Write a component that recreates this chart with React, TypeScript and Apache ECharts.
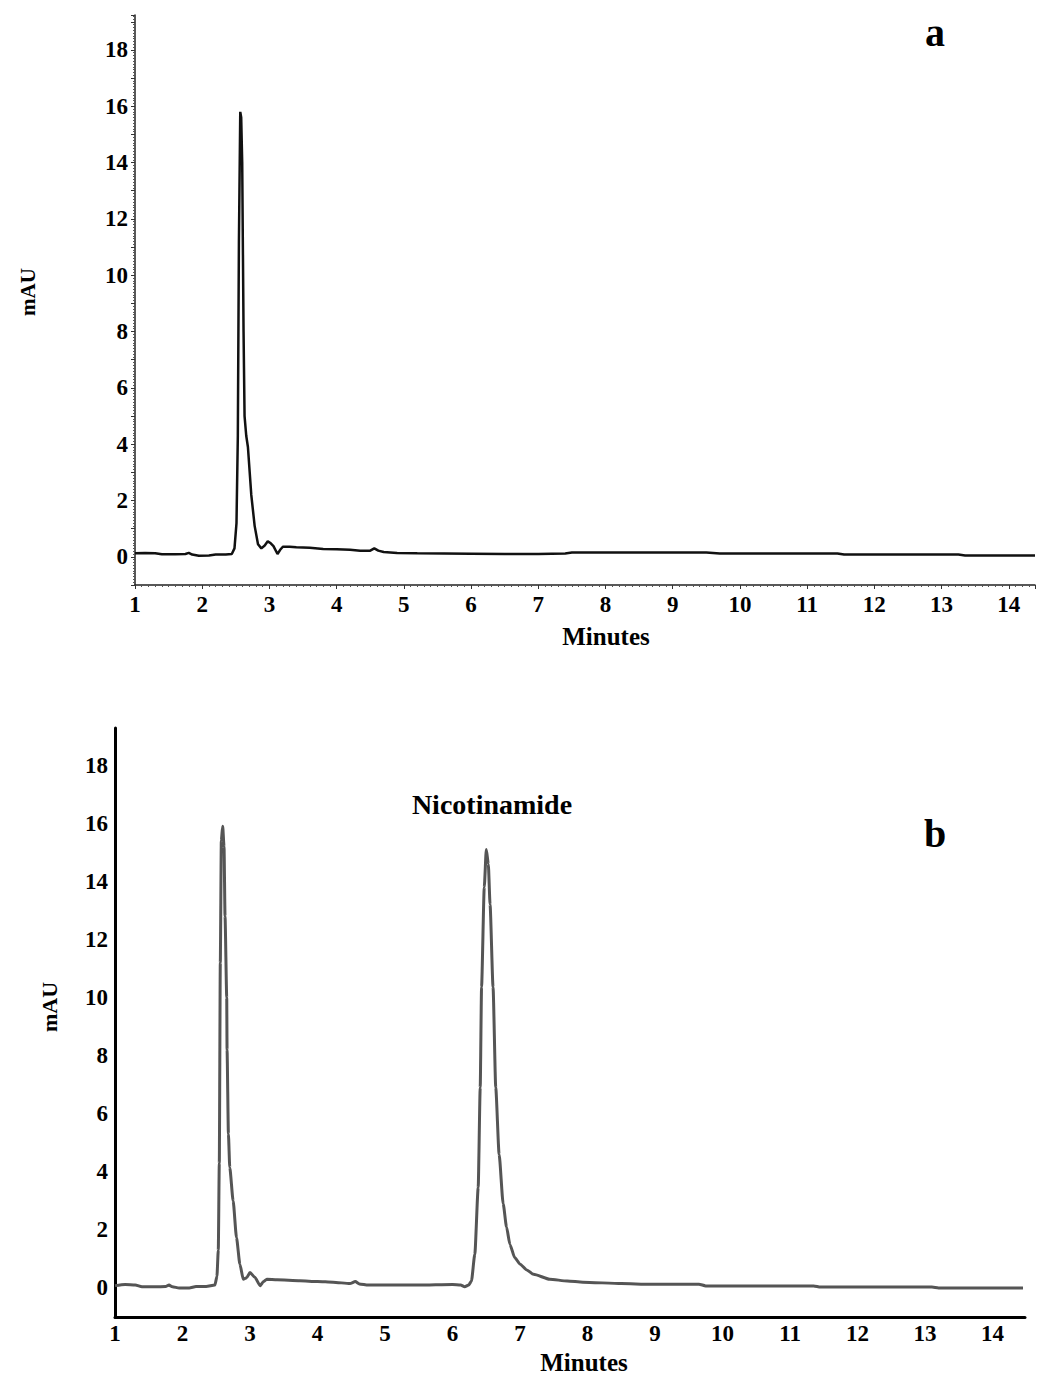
import React, { useEffect, useRef } from "react";
import * as echarts from "echarts";

// Chromatogram (a): blank / first peak only
const timeA = [
  1.0, 1.15, 1.3, 1.4, 1.6, 1.75, 1.8, 1.85, 1.95, 2.1, 2.2, 2.35, 2.44, 2.48, 2.51, 2.53, 2.546, 2.566,
  2.58, 2.595, 2.615, 2.63, 2.655, 2.68, 2.73, 2.78, 2.83, 2.88, 2.93, 2.975, 3.02, 3.06, 3.12, 3.16,
  3.2, 3.3, 3.4, 3.6, 3.8, 4.0, 4.2, 4.35, 4.5, 4.56, 4.62, 4.7, 4.9, 5.2, 5.6, 6.0, 6.5, 7.0, 7.4,
  7.5, 8.0, 8.5, 9.0, 9.5, 9.7, 10.2, 11.0, 11.45, 11.55, 12.2, 13.0, 13.25, 13.35, 14.0, 14.39,
];
const signalA = [
  0.13, 0.14, 0.13, 0.09, 0.09, 0.1, 0.14, 0.08, 0.04, 0.05, 0.08, 0.08, 0.1, 0.3, 1.2, 4.3, 11.2, 15.8,
  15.6, 14.0, 8.0, 5.0, 4.3, 3.9, 2.2, 1.1, 0.45, 0.3, 0.4, 0.55, 0.48, 0.38, 0.1, 0.25,
  0.36, 0.36, 0.34, 0.32, 0.28, 0.27, 0.25, 0.22, 0.22, 0.3, 0.22, 0.17, 0.14, 0.13, 0.12, 0.11, 0.1, 0.1, 0.12,
  0.15, 0.15, 0.15, 0.15, 0.15, 0.12, 0.12, 0.12, 0.12, 0.08, 0.08, 0.08, 0.08, 0.05, 0.05, 0.05,
];

// Chromatogram (b): with Nicotinamide peak
const timeB = [
  1.0, 1.15, 1.3, 1.4, 1.6, 1.75, 1.8, 1.85, 1.95, 2.1, 2.2, 2.35, 2.48, 2.51, 2.53, 2.545, 2.56, 2.575,
  2.595, 2.615, 2.63, 2.655, 2.66, 2.68, 2.7, 2.75, 2.8, 2.85, 2.9, 2.95, 3.0, 3.07, 3.15, 3.2, 3.25,
  3.4, 3.74, 4.0, 4.23, 4.48, 4.56, 4.62, 4.75, 5.0, 5.5, 6.0, 6.12, 6.18, 6.24, 6.28, 6.33, 6.38, 6.41,
  6.43, 6.47, 6.5, 6.53, 6.556, 6.6, 6.64, 6.69, 6.75, 6.8, 6.85, 6.92, 7.0, 7.1, 7.2, 7.44, 7.7, 7.93,
  8.5, 8.93, 9.65, 9.75, 11.35, 11.45, 13.1, 13.2, 14.45,
];
const signalB = [
  0.08, 0.12, 0.1, 0.04, 0.04, 0.05, 0.1, 0.04, 0.0, 0.0, 0.05, 0.05, 0.1, 0.4, 1.3, 4.3, 11.2, 15.4,
  15.9, 15.2, 12.8, 10.0, 8.2, 5.3, 4.15, 3.0, 1.73, 0.82, 0.3, 0.35, 0.53, 0.37, 0.08, 0.22, 0.3,
  0.28, 0.25, 0.22, 0.2, 0.15, 0.22, 0.14, 0.1, 0.1, 0.1, 0.12, 0.1, 0.04, 0.1, 0.24, 1.16, 3.46, 6.9,
  10.36, 13.8, 15.1, 14.6, 13.2, 10.36, 6.9, 4.6, 2.9, 2.1, 1.5, 1.05, 0.82, 0.62, 0.47, 0.3, 0.24, 0.2,
  0.15, 0.13, 0.13, 0.07, 0.07, 0.03, 0.03, 0.0, 0.0,
];

const xTickLabels = [1, 2, 3, 4, 5, 6, 7, 8, 9, 10, 11, 12, 13, 14];
const yTickLabels = [0, 2, 4, 6, 8, 10, 12, 14, 16, 18];

const FONT = "'Liberation Serif', 'Times New Roman', serif";

const isInt = (v: number) => Math.abs(v - Math.round(v)) < 1e-6;
const xFmt = (v: number) => (isInt(v) && xTickLabels.includes(Math.round(v)) ? String(Math.round(v)) : "");
const yFmt = (v: number) => (isInt(v) && yTickLabels.includes(Math.round(v)) ? String(Math.round(v)) : "");

const labelStyle = { fontFamily: FONT, fontWeight: "bold" as const, fontSize: 23, color: "#000" };

export default function App() {
  const ref = useRef<HTMLDivElement>(null);
  useEffect(() => {
    const chart = echarts.init(ref.current!, null, { renderer: "svg" });
    const dataA = timeA.map((t, i) => [t, signalA[i]]);
    const dataB = timeB.map((t, i) => [t, signalB[i]]);
    const option = {
      animation: false,
      backgroundColor: "#fff",
      grid: [
        { left: 135, top: 15, width: 903, height: 570 },
        { left: 115, top: 728, width: 910, height: 589 },
      ],
      xAxis: [
        {
          type: "value", gridIndex: 0, min: 1, max: 14.39, interval: 1,
          axisLine: { onZero: false, lineStyle: { color: "#222", width: 1.5 } },
          axisTick: { show: true, length: 4, lineStyle: { color: "#333" } },
          minorTick: { show: true, splitNumber: 10, length: 2, lineStyle: { color: "#555" } },
          splitLine: { show: false },
          axisLabel: { ...labelStyle, margin: 8, formatter: xFmt },
        },
        {
          type: "value", gridIndex: 1, min: 1, max: 14.48, interval: 1,
          axisLine: { onZero: false, lineStyle: { color: "#000", width: 3 } },
          axisTick: { show: false },
          splitLine: { show: false },
          axisLabel: { ...labelStyle, margin: 5, formatter: xFmt },
        },
      ],
      yAxis: [
        {
          type: "value", gridIndex: 0, min: -1, max: 19.24, interval: 1,
          axisLine: { show: true, onZero: false, lineStyle: { color: "#222", width: 1.5 } },
          axisTick: { show: true, length: 4, lineStyle: { color: "#333" } },
          minorTick: { show: true, splitNumber: 10, length: 2, lineStyle: { color: "#555" } },
          splitLine: { show: false },
          axisLabel: { ...labelStyle, margin: 7, formatter: yFmt },
        },
        {
          type: "value", gridIndex: 1, min: -1, max: 19.28, interval: 1,
          axisLine: { show: true, onZero: false, lineStyle: { color: "#000", width: 3 } },
          axisTick: { show: false },
          splitLine: { show: false },
          axisLabel: { ...labelStyle, margin: 7, formatter: yFmt },
        },
      ],
      series: [
        {
          name: "a", type: "line", xAxisIndex: 0, yAxisIndex: 0, data: dataA,
          showSymbol: false, lineStyle: { color: "#111", width: 2.5 }, itemStyle: { color: "#111" },
        },
        {
          name: "b", type: "line", xAxisIndex: 1, yAxisIndex: 1, data: dataB,
          showSymbol: false, smooth: 0.2, smoothMonotone: "x",
          lineStyle: { color: "#555", width: 3 }, itemStyle: { color: "#555" },
        },
      ],
      graphic: [
        { type: "text", x: 935, y: 32, style: { text: "a", font: `bold 40px ${FONT}`, fill: "#000", align: "center", verticalAlign: "middle" } },
        { type: "text", x: 935, y: 833, style: { text: "b", font: `bold 40px ${FONT}`, fill: "#000", align: "center", verticalAlign: "middle" } },
        { type: "text", x: 492, y: 804, style: { text: "Nicotinamide", font: `bold 28px ${FONT}`, fill: "#000", align: "center", verticalAlign: "middle" } },
        { type: "text", x: 606, y: 636, style: { text: "Minutes", font: `bold 25px ${FONT}`, fill: "#000", align: "center", verticalAlign: "middle" } },
        { type: "text", x: 584, y: 1362, style: { text: "Minutes", font: `bold 25px ${FONT}`, fill: "#000", align: "center", verticalAlign: "middle" } },
        { type: "text", x: 28, y: 292, rotation: Math.PI / 2, style: { text: "mAU", font: `bold 21px ${FONT}`, fill: "#000", align: "center", verticalAlign: "middle" } },
        { type: "text", x: 49, y: 1007, rotation: Math.PI / 2, style: { text: "mAU", font: `bold 22px ${FONT}`, fill: "#000", align: "center", verticalAlign: "middle" } },
      ],
    };
    chart.setOption(option as any);
    return () => chart.dispose();
  }, []);
  return (
    <div
      ref={ref}
      style={{ position: "absolute", left: 0, top: 0, width: 1038, height: 1376, background: "#fff" }}
    />
  );
}
